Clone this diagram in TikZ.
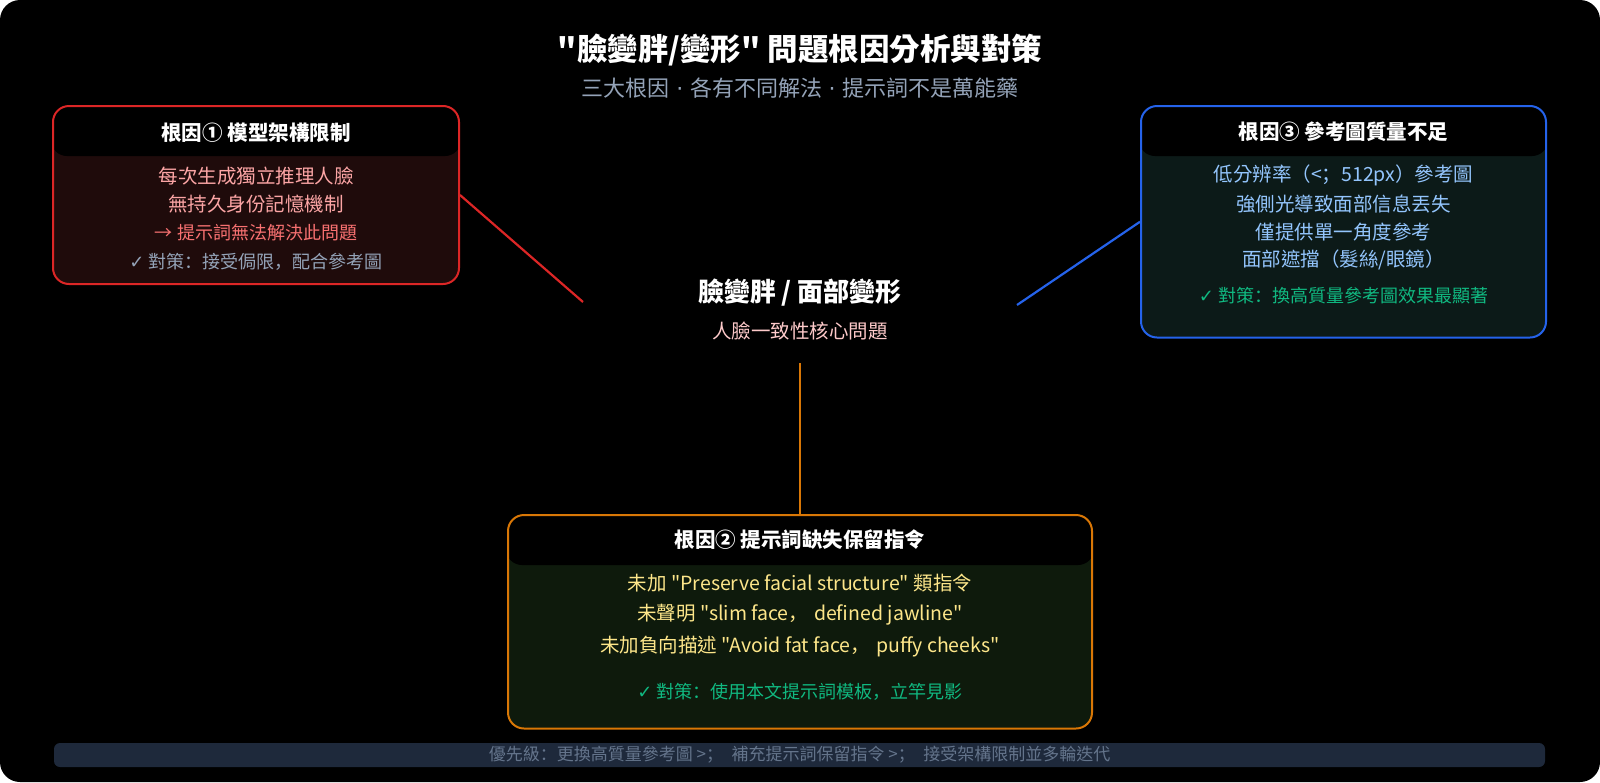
\documentclass[tikz,border=0pt]{standalone}
\usepackage{fontspec}
\setmainfont{Noto Sans CJK TC}[Ligatures=TeXOff]
\newfontfamily\symfont{DejaVu Sans}
\newfontfamily\scfont{Noto Sans CJK SC}[Ligatures=TeXOff]
\definecolor{redb}{HTML}{DC2626}
\definecolor{redbody}{HTML}{1F0B0B}
\definecolor{redtxt}{HTML}{FCA5A5}
\definecolor{redwarn}{HTML}{F87171}
\definecolor{grayt}{HTML}{94A3B8}
\definecolor{blueb}{HTML}{2563EB}
\definecolor{bluebody}{HTML}{0C1A18}
\definecolor{bluetxt}{HTML}{93C5FD}
\definecolor{greent}{HTML}{10B981}
\definecolor{orangeb}{HTML}{D97706}
\definecolor{orangebody}{HTML}{0E1A0C}
\definecolor{yellowt}{HTML}{FDE68A}
\definecolor{pinkt}{HTML}{FECACA}
\definecolor{barbg}{HTML}{1E293B}
\definecolor{bartxt}{HTML}{64748B}
\tikzset{
  card/.style={rounded corners=16pt, line width=2pt, inner sep=0pt,
    path picture={\fill[black] ([yshift=2pt,xshift=-2pt]path picture bounding box.north west) rectangle ([yshift=-50pt,xshift=2pt]path picture bounding box.north east);}},
  hdr/.style={text=white, inner sep=0pt, font=\fontsize{20.5}{24}\selectfont\bfseries},
  body/.style={inner sep=0pt, font=\fontsize{19.5}{23}\selectfont},
  small/.style={inner sep=0pt, font=\fontsize{18}{22}\selectfont},
  counter/.style={inner sep=0pt, font=\fontsize{18}{22}\selectfont},
  conn/.style={line width=2.2pt}
}
\newcommand{\mdot}{{\symfont ·}}
\newcommand{\zcolon}{{\scfont ：}}
\newcommand{\zcomma}{{\scfont ，}}
\newcommand{\zsemi}{{\scfont ；}}
\begin{document}
\begin{tikzpicture}[x=1pt,y=-1pt]
\useasboundingbox (0,0) rectangle (1600,782);
\fill[white] (0,0) rectangle (1600,782);
\fill[black, rounded corners=20pt] (0,0) rectangle (1600,782);

% title
\node[text=white, inner sep=0pt, font=\fontsize{30.5}{36}\selectfont\bfseries] (title) at (800,50) {"臉變胖/變形" 問題根因分析與對策};
\node[text=grayt, inner sep=0pt, font=\fontsize{22}{26}\selectfont] (subtitle) at (800,88) {三大根因\hspace{0.3em}\mdot\hspace{0.3em}各有不同解法\hspace{0.3em}\mdot\hspace{0.3em}提示詞不是萬能藥};

% center
\node[text=white, inner sep=0pt, font=\fontsize{26}{30}\selectfont\bfseries] (center) at (800,293) {臉變胖 / 面部變形};
\node[text=pinkt, body] (centersub) at (800,331) {人臉一致性核心問題};

% box 1
\node[card, draw=redb, fill=redbody, minimum width=406pt, minimum height=178pt] (b1) at (256,195) {};
\node[hdr] (b1h) at (256,133) {根因① 模型架構限制};
\node[body, text=redtxt] (b1a) at (256,176) {每次生成獨立推理人臉};
\node[body, text=redtxt] (b1b) at (256,204) {無持久身份記憶機制};
\node[small, text=redwarn] (b1c) at (256,233) {→ 提示詞無法解決此問題};
\node[counter, text=grayt] (b1d) at (256,262) {{\symfont ✓} 對策\zcolon 接受侷限\zcomma 配合參考圖};

% box 3
\node[card, draw=blueb, fill=bluebody, minimum width=405pt, minimum height=231.5pt] (b3) at (1343.5,221.75) {};
\node[hdr] (b3h) at (1343.5,132) {根因③ 參考圖質量不足};
\node[body, text=bluetxt] (b3a) at (1343.5,175) {低分辨率（<\zsemi 512px）參考圖};
\node[body, text=bluetxt] (b3b) at (1343.5,204) {強側光導致面部信息丟失};
\node[body, text=bluetxt] (b3c) at (1343.5,232) {僅提供單一角度參考};
\node[body, text=bluetxt] (b3d) at (1343.5,260) {面部遮擋（髮絲/眼鏡）};
\node[counter, text=greent] (b3e) at (1343.5,296) {{\symfont ✓} 對策\zcolon 換高質量參考圖效果最顯著};

% box 2
\node[card, draw=orangeb, fill=orangebody, minimum width=584pt, minimum height=213.5pt] (b2) at (800,621.75) {};
\node[hdr] (b2h) at (800,540) {根因② 提示詞缺失保留指令};
\node[body, text=yellowt] (b2a) at (800,583) {未加 "Preserve facial structure" 類指令};
\node[body, text=yellowt] (b2b) at (800,615) {未聲明 "slim face\zcomma\hspace{0.3em}defined jawline"};
\node[body, text=yellowt] (b2c) at (800,647) {未加負向描述 "Avoid fat face\zcomma\hspace{0.3em}puffy cheeks"};
\node[counter, text=greent] (b2d) at (800,692) {{\symfont ✓} 對策\zcolon 使用本文提示詞模板\zcomma 立竿見影};

% connectors
\coordinate (e1) at (583,302);
\coordinate (e3) at (1017,305);
\coordinate (e2) at (800,363);
\draw[conn, redb] (b1.east) -- (e1);
\draw[conn, blueb] (b3.west) -- (e3);
\draw[conn, line width=2.6pt, orangeb] (e2) -- (b2.north);

% bottom bar
\node[fill=barbg, rounded corners=6pt, minimum width=1491pt, minimum height=24pt, inner sep=0pt, text=bartxt, font=\fontsize{17}{20}\selectfont] (bar) at (799.5,755) {優先級\zcolon 更換高質量參考圖 >\zsemi\hspace{0.5em}補充提示詞保留指令 >\zsemi\hspace{0.5em}接受架構限制並多輪迭代};
\end{tikzpicture}
\end{document}
